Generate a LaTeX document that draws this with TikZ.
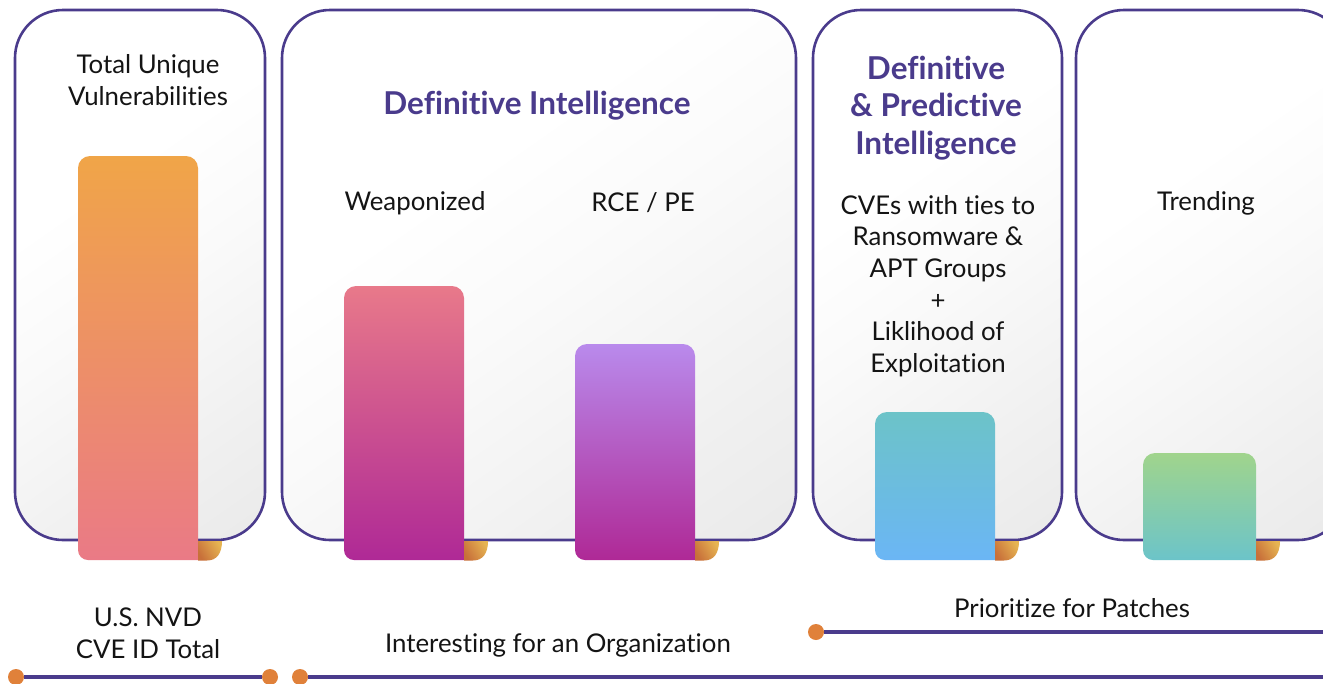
\documentclass[tikz,border=0pt]{standalone}
\usepackage{fontspec}
\setmainfont{Lato}[Ligatures=NoCommon]
\definecolor{ink}{HTML}{4A3B8C}
\definecolor{dotc}{HTML}{E0813A}
\definecolor{curlA}{HTML}{C8703A}
\definecolor{curlB}{HTML}{E6B452}
\definecolor{oraT}{HTML}{F0A548}
\definecolor{oraB}{HTML}{EA7A86}
\definecolor{pinkT}{HTML}{E8798A}
\definecolor{magB}{HTML}{AF2996}
\definecolor{lavT}{HTML}{B98AEC}
\definecolor{tealT}{HTML}{6CC3C8}
\definecolor{blueB}{HTML}{6BB6F5}
\definecolor{grnT}{HTML}{A0D48C}
\definecolor{tealB}{HTML}{6CC4C9}
\definecolor{glow}{HTML}{ECE9F5}
\pgfdeclareverticalshading{panelsh}{100bp}{color(0bp)=(black!11); color(28bp)=(black!6); color(48bp)=(black!2); color(62bp)=(white); color(100bp)=(white)}
\tikzset{
  panel/.style={draw=ink, line width=2.6pt, rounded corners=48pt,
    shading=panelsh, shading angle=35, inner sep=0pt},
  lbl/.style={align=center, font=\fontsize{25.8}{31.6}\selectfont, text=black!92, inner sep=0pt},
  ttl/.style={align=center, font=\fontsize{31.5}{37.5}\selectfont\bfseries, text=ink, inner sep=0pt},
  rail/.style={draw=ink, line width=3.6pt},
  knob/.style={circle, fill=dotc, minimum size=16pt, inner sep=0pt},
}
\newcommand{\mybar}[5]{% x1, x2, ytop, topcolor, bottomcolor
  \shade[top color=#4, bottom color=#5]
    (#1,548) [rounded corners=12pt] -- (#1,#3) -- (#2,#3) [sharp corners] -- (#2,560)
    [rounded corners=10pt] -- (#1,560) [sharp corners] -- (#1,548) -- cycle;
  \shade[left color=curlA, right color=curlB, shading angle=120]
    (#2,541) -- (#2+24,541) .. controls (#2+24,553) and (#2+19,560.5) .. (#2+9,560.5) -- (#2,560.5) -- cycle;
}
\begin{document}
\begin{tikzpicture}[x=1pt,y=-1pt]
\useasboundingbox (0,0) rectangle (1323,683);
\fill[white] (0,0) rectangle (1323,683);
\clip (0,0) rectangle (1323,683);
% soft glow beneath the panels
\shade[top color=white, middle color=glow, bottom color=white] (0,430) rectangle (1323,640);

% panels
\node[panel, minimum width=250pt, minimum height=530pt] (p1) at (140,275) {};
\node[panel, minimum width=514pt, minimum height=530pt] (p2) at (539,275) {};
\node[panel, minimum width=249pt, minimum height=530pt] (p3) at (937.5,275) {};
\node[panel, minimum width=270pt, minimum height=530pt] (p4) at (1211,275) {};

% bars
\mybar{78}{198}{156}{oraT}{oraB}
\mybar{344}{464}{286}{pinkT}{magB}
\mybar{575}{695}{344}{lavT}{magB}
\mybar{875}{995}{412}{tealT}{blueB}
\mybar{1143}{1256}{453}{grnT}{tealB}

% texts
\node[lbl] (t1) at (148,80) {Total Unique\\Vulnerabilities};
\node[ttl] (t2) at (537,106) {Definitive Intelligence};
\node[lbl] (t3) at (415,203) {Weaponized};
\node[lbl] (t4) at (643,203) {RCE / PE};
\node[ttl] (t5) at (936,108) {Definitive\\\&~Predictive\\Intelligence};
\node[lbl] (t6) at (938,286) {CVEs with ties to\\Ransomware \&\\APT Groups\\+\\Liklihood of\\Exploitation};
\node[lbl] (t7) at (1206,203) {Trending};
\node[lbl] (t8) at (148,633) {U.S. NVD\\CVE ID Total};
\node[lbl] (t9) at (558,645) {Interesting for an Organization};
\node[lbl] (t10) at (1072,608) {Prioritize for Patches};

% rails
\coordinate (r2e) at (1330,677);
\coordinate (r3e) at (1330,632);
\node[knob] (k1) at (16,677) {};
\node[knob] (k2) at (270,677) {};
\node[knob] (k3) at (300,677) {};
\node[knob] (k4) at (816,632) {};
\draw[rail] (k1) -- (k2);
\draw[rail] (k3) -- (r2e);
\draw[rail] (k4) -- (r3e);
\end{tikzpicture}
\end{document}
